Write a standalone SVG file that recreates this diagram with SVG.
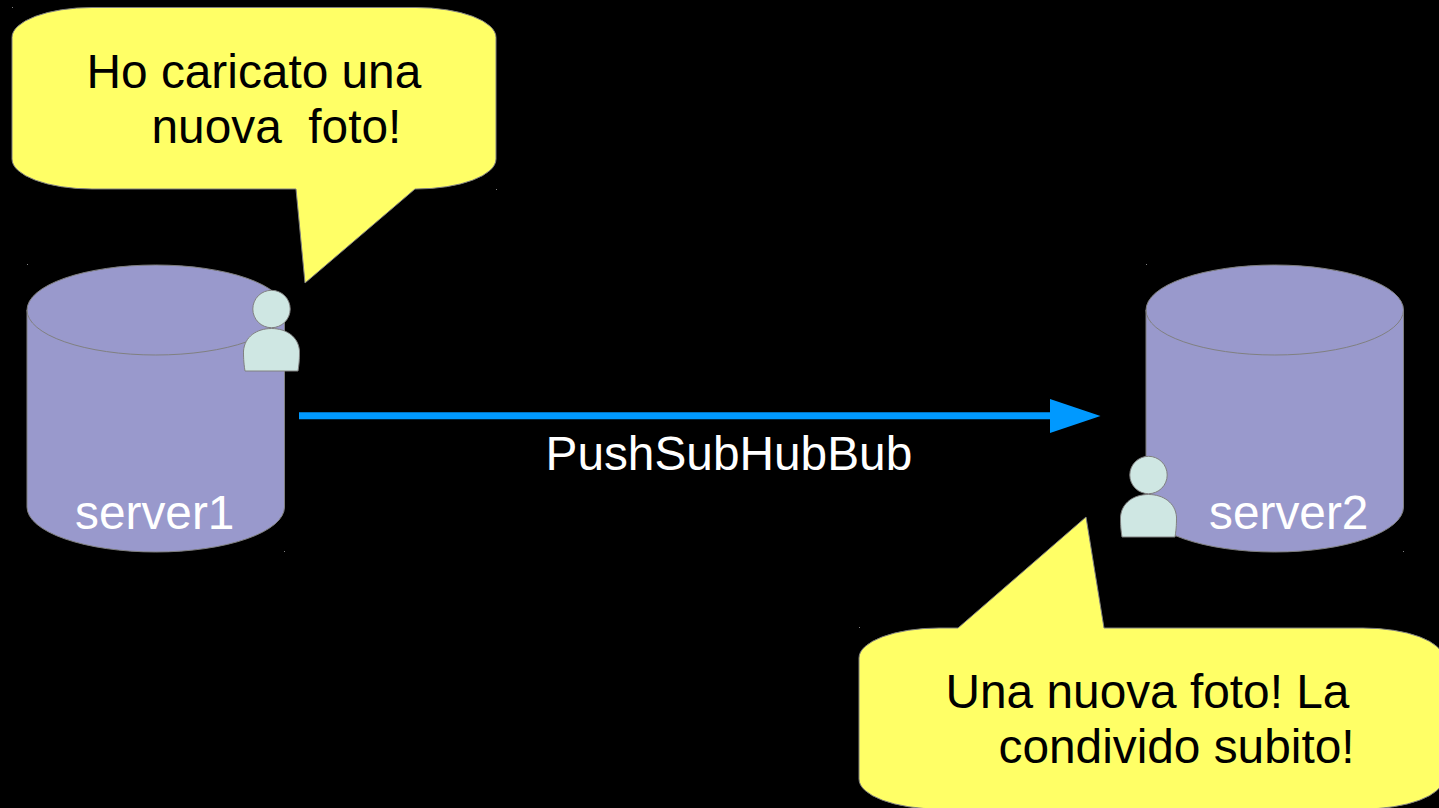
<svg xmlns="http://www.w3.org/2000/svg" width="1439" height="808" viewBox="0 0 1439 808">
<style>
text{font-family:"Liberation Sans",Arial,sans-serif;font-size:47.8px;white-space:pre}
.dark{fill:#000}
.light{fill:#fff}
.bubble{fill:#ffff66;stroke:#808080;stroke-width:1}
.cyl{fill:#9999cc;stroke:#808080;stroke-width:1}
.rim{fill:none;stroke:#808080;stroke-width:1}
.person{fill:#cfe7e3;stroke:#808080;stroke-width:1}
.tick{fill:#808080}
</style>
<defs>
<g id="cylinder">
<path class="cyl" d="M0 45A128.750 45 0 0 1 257.500 45V242A128.750 45 0 0 1 0 242Z"/>
<path class="rim" d="M0 45A128.750 45 0 0 0 257.500 45"/>
</g>
<g id="person">
<circle class="person" cx="28" cy="19" r="18.700"/>
<path class="person" d="M1.500 81C0 72 0 66 0 61C1 47 13 38.500 28 38.500C43 38.500 55 47 56 61C56 66 56 72 54.500 81Z"/>
</g>
</defs>
<rect width="1439" height="808" fill="#000"/>
<g id="server1">
<use href="#cylinder" x="27" y="265"/>
<text class="light" x="75" y="529">server1</text>
</g>
<g id="server2">
<use href="#cylinder" x="1146" y="265"/>
<text class="light" x="1209" y="529">server2</text>
</g>
<g id="user1"><use href="#person" x="243.500" y="290"/></g>
<g id="user2"><use href="#person" x="1120.500" y="456"/></g>
<g id="bubble1">
<path class="bubble" d="M92 7.500H416A80 30 0 0 1 496 37.500V159A80 30 0 0 1 416 189H415L305 283L296 189H92A80 30 0 0 1 12 159V37.500A80 30 0 0 1 92 7.500Z"/>
<text class="dark" x="86.500" y="88">Ho caricato una</text>
<text class="dark" x="151.500" y="143">nuova  foto!</text>
</g>
<g id="bubble2">
<path class="bubble" d="M939 628H958L1086 517L1104 628H1363A80 30 0 0 1 1443 658V779A80 30 0 0 1 1363 809H939A80 30 0 0 1 859 779V658A80 30 0 0 1 939 628Z"/>
<text class="dark" x="945.500" y="708">Una nuova foto! La</text>
<text class="dark" x="998.500" y="763">condivido subito!</text>
</g>
<g id="connectors">
<path d="M299 415.800H1052" fill="none" stroke="#0099ff" stroke-width="7"/>
<path d="M1050 399L1100.500 416L1050 433Z" fill="#0099ff"/>
</g>
<g id="label">
<text class="light" x="545.500" y="470">PushSubHubBub</text>
</g>
<g id="ticks">
<rect class="tick" x="27" y="264" width="1" height="1"/>
<rect class="tick" x="284" y="551" width="1" height="1"/>
<rect class="tick" x="1146" y="264" width="1" height="1"/>
<rect class="tick" x="1403" y="551" width="1" height="1"/>
<rect class="tick" x="12" y="7" width="1" height="1"/>
<rect class="tick" x="496" y="189" width="1" height="1"/>
<rect class="tick" x="859" y="627" width="1" height="1"/>
</g>
</svg>
